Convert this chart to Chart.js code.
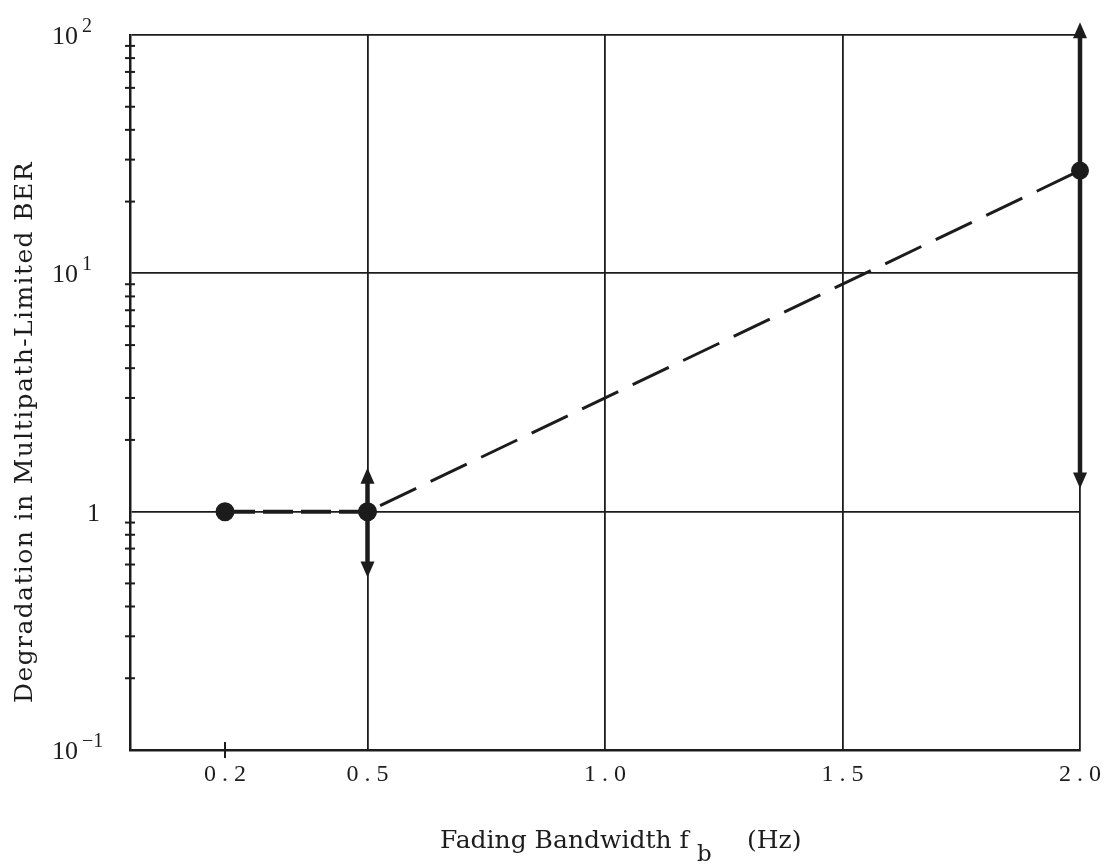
<!DOCTYPE html>
<html>
<head>
<meta charset="utf-8">
<script src="https://cdn.jsdelivr.net/npm/chart.js@4.4.1/dist/chart.umd.min.js"></script>
<style>
  body { margin: 0; background: #fff; }
  canvas { display: block; }
</style>
</head>
<body>
<canvas id="myChart" width="1108" height="864"></canvas>
<script>
// axis ticks
var xTicks = [0.2, 0.5, 1.0, 1.5, 2.0];
var xTickLabels = ['0.2', '0.5', '1.0', '1.5', '2.0'];
var yMajor = [0.1, 1, 10, 100];
var yTickBase = ['10', '1', '10', '10'];
var yTickExp = ['-1', '', '1', '2'];

// measured points
var lowX = [0.2, 0.5];
var lowY = [1, 1];
var trendX = [0.5, 2.0];
var trendY = [1, 27];

// range arrows
var errX = [0.5, 2.0];
var errLow = [0.53, 1.25];
var errHigh = [1.53, 113];

var ink = '#1c1c1c';

function pts(xs, ys) {
  return xs.map((x, i) => ({ x: x, y: ys[i] }));
}

// draws tick labels, minor ticks, error arrows and the axis titles
var paperPlugin = {
  id: 'paper',
  afterDraw: function(chart) {
    var ctx = chart.ctx;
    var xs = chart.scales.x, ys = chart.scales.y;
    var area = chart.chartArea;
    ctx.save();
    ctx.fillStyle = ink;
    ctx.strokeStyle = ink;

    // minor ticks on the log axis
    ctx.lineWidth = 2;
    for (var d = 0; d < yMajor.length - 1; d++) {
      for (var k = 2; k <= 9; k++) {
        var py = ys.getPixelForValue(yMajor[d] * k);
        ctx.beginPath();
        ctx.moveTo(area.left - 5, py);
        ctx.lineTo(area.left + 5, py);
        ctx.stroke();
      }
    }
    // small tick at 0.2
    var p02 = xs.getPixelForValue(xTicks[0]);
    ctx.beginPath();
    ctx.moveTo(p02, area.bottom - 8);
    ctx.lineTo(p02, area.bottom + 8);
    ctx.stroke();

    // range arrows
    for (var i = 0; i < errX.length; i++) {
      var px = xs.getPixelForValue(errX[i]);
      var yl = ys.getPixelForValue(errLow[i]);
      var yh = ys.getPixelForValue(errHigh[i]);
      ctx.lineWidth = 4.5;
      ctx.beginPath();
      ctx.moveTo(px, yh + 12);
      ctx.lineTo(px, yl - 12);
      ctx.stroke();
      ctx.beginPath();
      ctx.moveTo(px, yh);
      ctx.lineTo(px - 7, yh + 16);
      ctx.lineTo(px + 7, yh + 16);
      ctx.closePath();
      ctx.fill();
      ctx.beginPath();
      ctx.moveTo(px, yl);
      ctx.lineTo(px - 7, yl - 16);
      ctx.lineTo(px + 7, yl - 16);
      ctx.closePath();
      ctx.fill();
    }

    // x tick labels
    ctx.font = '24px "Liberation Serif"';
    ctx.textAlign = 'center';
    ctx.textBaseline = 'alphabetic';
    ctx.letterSpacing = '6px';
    xTicks.forEach(function(v, i) {
      ctx.fillText(xTickLabels[i], xs.getPixelForValue(v) + 3, 781);
    });
    ctx.letterSpacing = '0px';

    // y tick labels
    yMajor.forEach(function(v, i) {
      var py = ys.getPixelForValue(v);
      ctx.textAlign = 'right';
      ctx.font = '26px "Liberation Serif"';
      if (yTickExp[i] === '') {
        ctx.fillText(yTickBase[i], 100, py + 9);
      } else {
        ctx.fillText(yTickBase[i], 78, py + 9);
        ctx.textAlign = 'left';
        ctx.font = '20px "Liberation Serif"';
        ctx.fillText(yTickExp[i].replace('-', '\u2212'), 82, py - 3);
      }
    });

    // x title with subscript
    ctx.textAlign = 'left';
    ctx.font = '25px "DejaVu Serif"';
    ctx.fillText('Fading Bandwidth f', 440, 848);
    ctx.font = '23px "DejaVu Serif"';
    ctx.fillText('b', 697, 861);
    ctx.font = '25px "DejaVu Serif"';
    ctx.fillText('(Hz)', 747, 848);

    // y title
    ctx.translate(32, 432);
    ctx.rotate(-Math.PI / 2);
    ctx.textAlign = 'center';
    ctx.font = '25px "DejaVu Serif"';
    ctx.letterSpacing = '1.4px';
    ctx.fillText('Degradation in Multipath-Limited BER', 0, 0);
    ctx.restore();
  }
};

var ctx = document.getElementById('myChart').getContext('2d');
var myChart = new Chart(ctx, {
  type: 'scatter',
  data: {
    datasets: [
      {
        data: pts(lowX, lowY),
        showLine: true,
        borderColor: ink,
        backgroundColor: ink,
        borderWidth: 4,
        borderDash: [30, 8],
        pointRadius: 7.5,
        pointHoverRadius: 7.5,
        clip: false
      },
      {
        data: pts(trendX, trendY),
        showLine: true,
        borderColor: ink,
        backgroundColor: ink,
        borderWidth: 3,
        borderDash: [40, 16],
        borderDashOffset: -14,
        pointRadius: 7.5,
        pointHoverRadius: 7.5,
        clip: false
      }
    ]
  },
  options: {
    responsive: false,
    animation: false,
    layout: { padding: { left: 130, right: 28, top: 35, bottom: 114 } },
    plugins: {
      legend: { display: false },
      tooltip: { enabled: false }
    },
    scales: {
      x: {
        type: 'linear',
        min: 0,
        max: 2.0,
        afterBuildTicks: function(scale) {
          scale.ticks = xTicks.map(v => ({ value: v }));
        },
        afterFit: function(scale) { scale.height = 0; },
        ticks: { display: false },
        grid: {
          drawTicks: false,
          lineWidth: 1.8,
          color: function(c) { return c.tick && c.tick.value === 0.2 ? 'rgba(0,0,0,0)' : ink; }
        },
        border: { color: ink, width: 2.5 }
      },
      y: {
        type: 'logarithmic',
        min: 0.1,
        max: 100,
        afterBuildTicks: function(scale) {
          scale.ticks = yMajor.map(v => ({ value: v }));
        },
        afterFit: function(scale) { scale.width = 0; },
        ticks: { display: false },
        grid: { drawTicks: false, lineWidth: 1.8, color: ink },
        border: { color: ink, width: 2.5 }
      }
    }
  },
  plugins: [paperPlugin]
});
</script>
</body>
</html>
